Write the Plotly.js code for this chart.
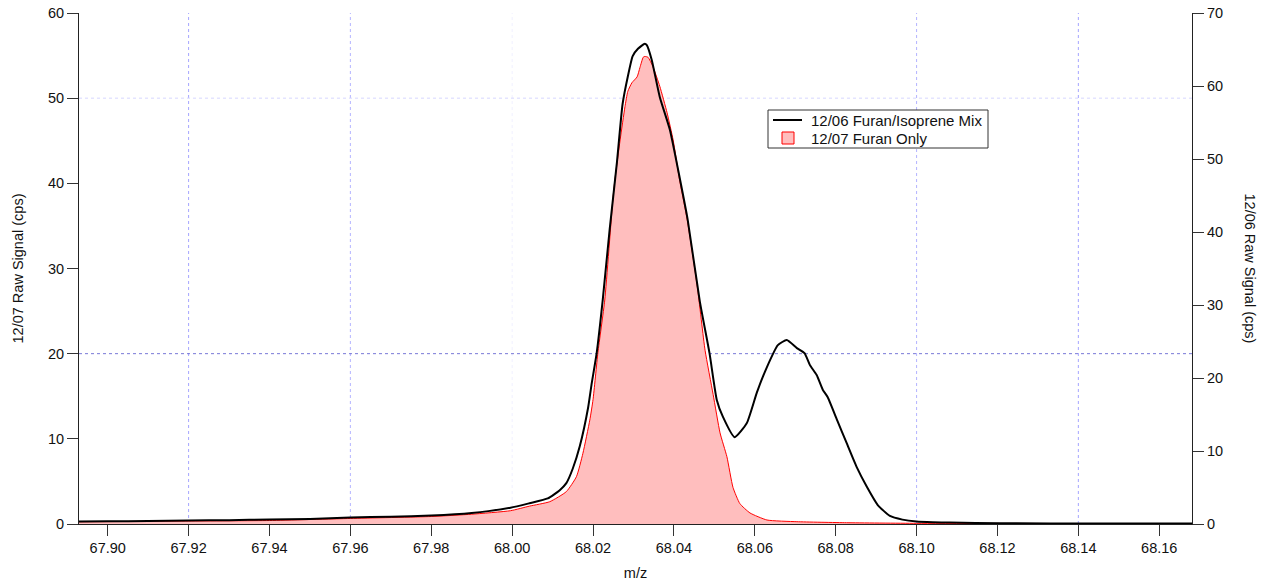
<!DOCTYPE html>
<html>
<head>
<meta charset="utf-8">
<script src="https://cdn.plot.ly/plotly-3.0.1.min.js"></script>
<style>html,body{margin:0;padding:0;background:#fff;}#chart{width:1268px;height:586px;}</style>
</head>
<body>
<div id="chart"></div>
<script>
// 12/06 Furan/Isoprene Mix (right axis, cps)
const mixMz = [67.8929, 67.9000, 67.9100, 67.9200, 67.9300, 67.9400, 67.9500, 67.9600, 67.9700, 67.9800, 67.9900, 67.9996,
  68.0043, 68.0088, 68.0117, 68.0134, 68.0150, 68.0167, 68.0188, 68.0196, 68.0209, 68.0224, 68.0241, 68.0259, 68.0273,
  68.0286, 68.0298, 68.0311, 68.0328, 68.0333, 68.0345, 68.0365, 68.0390, 68.0414, 68.0434, 68.0464, 68.0488, 68.0506,
  68.0521, 68.0550, 68.0580, 68.0605, 68.0630, 68.0657, 68.0679, 68.0704, 68.0723, 68.0736, 68.0753, 68.0768, 68.0780,
  68.0803, 68.0827, 68.0852, 68.0877, 68.0904, 68.0934, 68.0965, 68.1000, 68.1040, 68.1082, 68.1206, 68.1453, 68.1681];
const mixSignal = [0.34, 0.37, 0.40, 0.48, 0.52, 0.62, 0.70, 0.89, 1.0, 1.15, 1.5, 2.23,
  2.85, 3.5, 4.6, 5.6, 7.6, 10.6, 16.0, 19.0, 23.4, 30.7, 40.3, 49.5, 57.5,
  61.3, 64.1, 65.1, 65.8, 65.6, 63.6, 58.5, 54.0, 47.5, 41.7, 30.5, 23.4, 17.0,
  14.7, 11.9, 13.8, 18.0, 21.5, 24.5, 25.2, 24.1, 23.4, 21.8, 20.4, 18.4, 17.4,
  14.3, 11.1, 7.8, 5.1, 2.6, 1.1, 0.6, 0.34, 0.25, 0.2, 0.1, 0.08, 0.08];

// 12/07 Furan Only (left axis, cps)
const furanMz = [67.8929, 67.9000, 67.9200, 67.9400, 67.9600, 67.9800, 67.9900, 67.9996, 68.0043, 68.0093, 68.0134,
  68.0159, 68.0175, 68.0192, 68.0200, 68.0212, 68.0229, 68.0249, 68.0254, 68.0267, 68.0279, 68.0286, 68.0296, 68.0309,
  68.0316, 68.0324, 68.0328, 68.0336, 68.0348, 68.0365, 68.0383, 68.0398, 68.0414, 68.0433, 68.0458, 68.0477, 68.0497,
  68.0514, 68.0531, 68.0546, 68.0563, 68.0588, 68.0630, 68.0704, 68.0827, 68.1000, 68.1681];
const furanSignal = [0.26, 0.28, 0.35, 0.41, 0.65, 0.88, 1.15, 1.56, 2.1, 2.62, 3.8,
  5.56, 8.3, 12.2, 14.6, 20.1, 26.3, 38.1, 40.4, 45.1, 49.0, 50.8, 51.8, 52.5,
  53.6, 54.8, 54.9, 54.8, 53.7, 51.4, 48.3, 45.1, 40.4, 35.7, 27.8, 20.4, 15.2,
  10.7, 7.9, 4.3, 2.4, 1.3, 0.47, 0.27, 0.15, 0.08, 0.05];

const seriesNames = ['12/06 Furan/Isoprene Mix', '12/07 Furan Only'];
const xTicks = [67.90, 67.92, 67.94, 67.96, 67.98, 68.00, 68.02, 68.04, 68.06, 68.08, 68.10, 68.12, 68.14, 68.16];
const vGrid = [67.92, 67.96, 68.00, 68.10, 68.14];
const vGridColors = ['rgb(165,165,255)', 'rgb(180,180,255)', 'rgb(240,240,255)', 'rgb(180,180,255)', 'rgb(165,165,255)'];
const hGrid = [50, 20];
const hGridColors = ['rgb(215,215,255)', 'rgb(120,120,215)'];

const FONT = 'Arial, "Liberation Sans", sans-serif';
const shapes = [];
vGrid.forEach((v, i) => shapes.push({type: 'line', xref: 'x', yref: 'paper', x0: v, x1: v, y0: 0, y1: 1,
  line: {color: vGridColors[i], width: 1, dash: 'dot'}, layer: 'below'}));
hGrid.forEach((v, i) => shapes.push({type: 'line', xref: 'paper', yref: 'y', x0: 0, x1: 1, y0: v, y1: v,
  line: {color: hGridColors[i], width: 1, dash: 'dot'}, layer: 'below'}));

// legend (drawn as a box with samples and real text)
const W = 1113, H = 511, L = 79, B = 524;
const px = p => (p - L) / W, py = p => (B - p) / H;
shapes.push({type: 'rect', xref: 'paper', yref: 'paper', x0: px(768), x1: px(988), y0: py(148), y1: py(110),
  line: {color: '#333', width: 1}, fillcolor: '#fff', layer: 'above'});
shapes.push({type: 'line', xref: 'paper', yref: 'paper', x0: px(773), x1: px(802), y0: py(120), y1: py(120),
  line: {color: '#000', width: 2}, layer: 'above'});
shapes.push({type: 'rect', xref: 'paper', yref: 'paper', x0: px(782), x1: px(794), y0: py(144), y1: py(132),
  line: {color: '#ff0000', width: 1}, fillcolor: 'rgb(255,190,190)', layer: 'above'});

const traces = [
  {x: mixMz, y: mixSignal, name: seriesNames[0], type: 'scatter', mode: 'lines', yaxis: 'y2',
   line: {color: '#000000', width: 2, shape: 'spline', smoothing: 0.5}},
  {x: furanMz, y: furanSignal, name: seriesNames[1], type: 'scatter', mode: 'lines', yaxis: 'y',
   fill: 'tozeroy', fillcolor: 'rgb(255,190,190)', line: {color: '#ff0000', width: 1, shape: 'spline', smoothing: 0.5}}
];

const tickFont = {family: FONT, size: 14.5, color: '#111'};
const layout = {
  width: 1268, height: 586,
  margin: {l: 79, r: 76, t: 13, b: 62},
  paper_bgcolor: '#fff', plot_bgcolor: '#fff',
  showlegend: false,
  xaxis: {range: [67.8929, 68.1681], tickvals: xTicks, ticktext: xTicks.map(v => v.toFixed(2)),
    ticks: 'outside', ticklen: 11, tickcolor: '#333', showgrid: false, zeroline: false,
    showline: true, linecolor: '#222', linewidth: 1, tickfont: tickFont,
    title: {text: 'm/z', font: {family: FONT, size: 14.5, color: '#111'}, standoff: 12}},
  yaxis: {range: [0, 60], tickvals: [0, 10, 20, 30, 40, 50, 60], ticks: 'outside', ticklen: 11, tickcolor: '#333',
    showgrid: false, zeroline: false, showline: true, linecolor: '#222', linewidth: 1, tickfont: tickFont,
    title: {text: '12/07 Raw Signal (cps)', font: {family: FONT, size: 14.5, color: '#111'}, standoff: 20}},
  yaxis2: {range: [0, 70], tickvals: [0, 10, 20, 30, 40, 50, 60, 70], overlaying: 'y', side: 'right', ticks: 'outside',
    ticklen: 11, tickcolor: '#333', showgrid: false, zeroline: false, showline: true, linecolor: '#222', linewidth: 1,
    tickfont: tickFont},
  annotations: [
    {text: '12/06 Raw Signal (cps)', xref: 'paper', yref: 'paper', x: 1, y: 0.5, xanchor: 'center', yanchor: 'middle',
     xshift: 58, textangle: 90, showarrow: false, font: {family: FONT, size: 14.5, color: '#111'}},
    {text: seriesNames[0], xref: 'paper', yref: 'paper', x: px(809), y: py(120), xanchor: 'left', yanchor: 'middle',
     showarrow: false, font: {family: FONT, size: 15, color: '#111'}},
    {text: seriesNames[1], xref: 'paper', yref: 'paper', x: px(809), y: py(138), xanchor: 'left', yanchor: 'middle',
     showarrow: false, font: {family: FONT, size: 15, color: '#111'}}
  ],
  shapes: shapes
};
Plotly.newPlot('chart', traces, layout, {displayModeBar: false, staticPlot: true});
</script>
</body>
</html>
